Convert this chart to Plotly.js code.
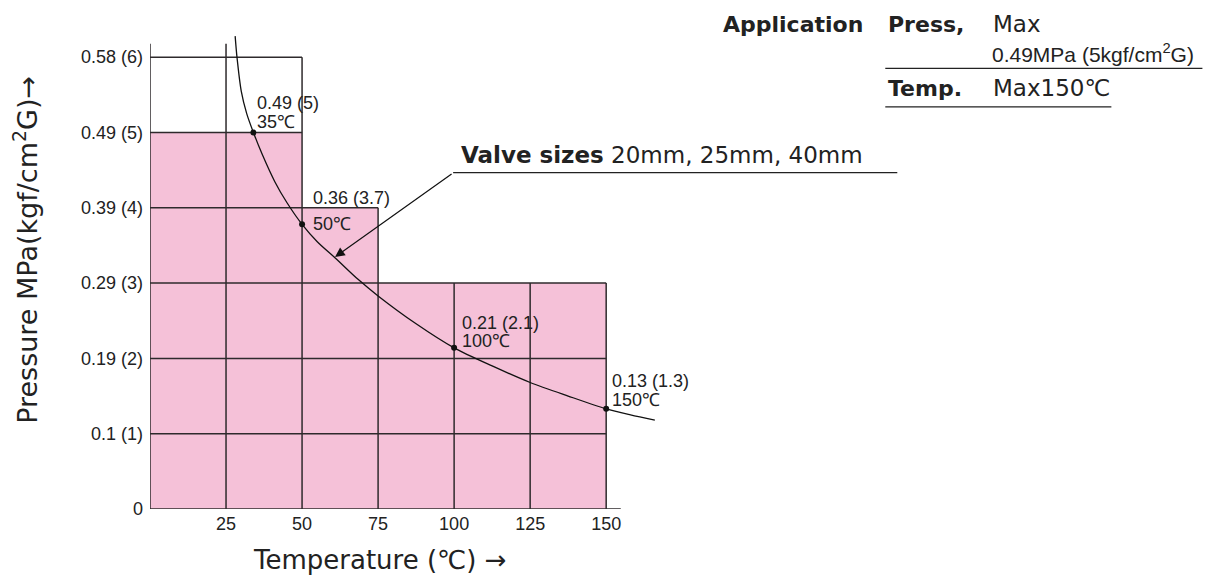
<!DOCTYPE html>
<html>
<head>
<meta charset="utf-8">
<script src="https://cdn.plot.ly/plotly-3.0.1.min.js"></script>
<style>html,body{margin:0;padding:0;background:#fff;}#chart{width:1213px;height:576px;}</style>
</head>
<body>
<div id="chart"></div>
<script>
// ---- data (temperature ℃, pressure kgf/cm²G) ----
const xTickVals = [25, 50, 75, 100, 125, 150];
const xTickText = ['25', '50', '75', '100', '125', '150'];
const yTickVals = [0, 1, 2, 3, 4, 5, 6];
const yTickText = ['0', '0.1 (1)', '0.19 (2)', '0.29 (3)', '0.39 (4)', '0.49 (5)', '0.58 (6)'];

// usable region: steps
const stepEdges = [0, 50, 75, 150];
const stepLevels = [5, 4, 3];
const boxTop = 6;          // upper outlined box (0-50)
const axisTop = 6.18;      // left axis / 25℃ line top
const axisRight = 154.8;   // x axis line end

// limit curve
const curveT = [28.0, 28.6, 30.0, 31.8, 34.0, 37, 41, 45, 50, 55, 61, 68.4, 75, 87.5, 100, 112.5, 125, 137.5, 150, 158, 166];
const curveP = [6.28, 6.0, 5.55, 5.25, 5.0, 4.7, 4.35, 4.07, 3.78, 3.55, 3.33, 3.05, 2.83, 2.46, 2.14, 1.9, 1.68, 1.5, 1.33, 1.25, 1.18];

// marked points
const markT = [34, 50, 100, 150];
const markP = [5.0, 3.78, 2.14, 1.33];

// ---- geometry ----
const W = 1213, H = 576;
const L = 150, B = 66.5;
const xMax = 170, yMax = 6.6;
const pxX = 456 / 150, pxY = 452.5 / 6;
const plotW = xMax * pxX, plotH = yMax * pxY;
const R = W - L - plotW, T = H - B - plotH;
const px = v => (v - L) / plotW;
const py = v => (H - B - v) / plotH;

// build pink region
const fillX = [], fillY = [];
fillX.push(stepEdges[0]); fillY.push(0);
for (let i = 0; i < stepLevels.length; i++) {
  fillX.push(stepEdges[i], stepEdges[i + 1]);
  fillY.push(stepLevels[i], stepLevels[i]);
}
fillX.push(stepEdges[stepEdges.length - 1]); fillY.push(0);

function levelAt(t) {
  for (let i = 0; i < stepLevels.length; i++) {
    if (t > stepEdges[i] && t < stepEdges[i + 1]) return stepLevels[i];
    if (t === stepEdges[i + 1]) return Math.max(stepLevels[i], stepLevels[i + 1] || 0);
  }
  return 0;
}
function extentAt(p) {
  let e = 0;
  for (let i = 0; i < stepLevels.length; i++) if (stepLevels[i] >= p) e = stepEdges[i + 1];
  return e;
}

const gx = [], gy = [];
gx.push(0, 0, null); gy.push(0, axisTop, null);
gx.push(0, axisRight, null); gy.push(0, 0, null);
xTickVals.forEach(t => {
  let top = levelAt(t);
  if (t === 25) top = axisTop;
  if (t === 50) top = boxTop;
  gx.push(t, t, null); gy.push(0, top, null);
});
yTickVals.slice(1).forEach(p => {
  const e = p === boxTop ? 50 : extentAt(p);
  gx.push(0, e, null); gy.push(p, p, null);
});

const lineCol = '#2e2a2c';
const traces = [
  {x: fillX, y: fillY, type: 'scatter', mode: 'lines', fill: 'toself', fillcolor: '#f5c1d8',
   line: {width: 0}, hoverinfo: 'skip', showlegend: false},
  {x: gx, y: gy, type: 'scatter', mode: 'lines', line: {color: lineCol, width: 1.5},
   hoverinfo: 'skip', showlegend: false, connectgaps: false},
  {x: curveT, y: curveP, type: 'scatter', mode: 'lines', line: {color: '#111', width: 1.3, shape: 'spline', smoothing: 0.8},
   hoverinfo: 'skip', showlegend: false},
  {x: markT, y: markP, type: 'scatter', mode: 'markers', marker: {color: '#111', size: 6},
   hoverinfo: 'skip', showlegend: false}
];

const fSmall = {family: 'Liberation Sans, Arial, sans-serif', size: 18, color: '#222'};
const fTitle = {family: 'DejaVu Sans, sans-serif', size: 26, color: '#222'};
const fYTitle = {family: 'DejaVu Sans, sans-serif', size: 27, color: '#222'};
const fReg = {family: 'DejaVu Sans, sans-serif', size: 23, color: '#222'};
const fBold = {family: 'DejaVu Sans, sans-serif', size: 22, color: '#222'};
const fNarrow = {family: 'Liberation Sans Narrow, Liberation Sans, sans-serif', size: 21, color: '#222'};

function txt(x, y, text, font, xa, ya, extra) {
  return Object.assign({xref: 'paper', yref: 'paper', x: px(x), y: py(y), text: text, showarrow: false,
    xanchor: xa || 'left', yanchor: ya || 'middle', font: font}, extra || {});
}

const annotations = [
  txt(255, 103, '0.49 (5)', fSmall),
  txt(255, 122, '35℃', fSmall),
  txt(311, 198, '0.36 (3.7)', fSmall),
  txt(311, 224, '50℃', fSmall),
  txt(460, 323, '0.21 (2.1)', fSmall),
  txt(460, 341, '100℃', fSmall),
  txt(610, 381, '0.13 (1.3)', fSmall),
  txt(610, 400, '150℃', fSmall),
  txt(459, 155, '<b>Valve sizes</b> 20mm, 25mm, 40mm', fReg),
  // top right table
  txt(721, 24, '<b>Application</b>', fBold),
  txt(886, 24, '<b>Press,</b>', fBold),
  txt(991, 24, 'Max', fReg),
  txt(990, 53, '0.49MPa (5kgf/cm<sup>2</sup>G)', fNarrow),
  txt(886, 88, '<b>Temp.</b>', fBold),
  txt(991, 88, 'Max150℃', fReg),
  // axis titles
  txt(251, 561, 'Temperature (℃) →', fTitle, 'left', 'middle'),
  txt(26, 250, 'Pressure MPa(kgf/cm<sup>2</sup>G)→', fYTitle, 'center', 'middle', {textangle: -90}),
  // arrow
  {xref: 'paper', yref: 'paper', axref: 'pixel', ayref: 'pixel', x: px(335), y: py(257), ax: 453 - 335, ay: 173 - 257,
   text: '', showarrow: true, arrowhead: 2, arrowsize: 1.6, arrowwidth: 1.2, arrowcolor: '#111', standoff: 0}
];

const shapes = [
  {type: 'line', xref: 'paper', yref: 'paper', x0: px(453), x1: px(897), y0: py(172.7), y1: py(172.7), line: {color: '#222', width: 1.2}},
  {type: 'line', xref: 'paper', yref: 'paper', x0: px(885), x1: px(1202), y0: py(68.3), y1: py(68.3), line: {color: '#222', width: 1.2}},
  {type: 'line', xref: 'paper', yref: 'paper', x0: px(885), x1: px(1111), y0: py(106.7), y1: py(106.7), line: {color: '#222', width: 1.2}}
];

const layout = {
  width: W, height: H,
  margin: {l: L, r: R, t: T, b: B, pad: 0},
  paper_bgcolor: '#fff', plot_bgcolor: 'rgba(0,0,0,0)',
  showlegend: false,
  xaxis: {range: [0, xMax], showgrid: false, zeroline: false, showline: false, ticks: '',
    tickvals: xTickVals, ticktext: xTickText, tickfont: fSmall, ticklabelstandoff: 2, fixedrange: true},
  yaxis: {range: [0, yMax], showgrid: false, zeroline: false, showline: false, ticks: '',
    tickvals: yTickVals, ticktext: yTickText, tickfont: fSmall, ticklabelstandoff: 6, fixedrange: true},
  annotations: annotations,
  shapes: shapes
};

Plotly.newPlot('chart', traces, layout, {staticPlot: true, displayModeBar: false});
</script>
</body>
</html>
